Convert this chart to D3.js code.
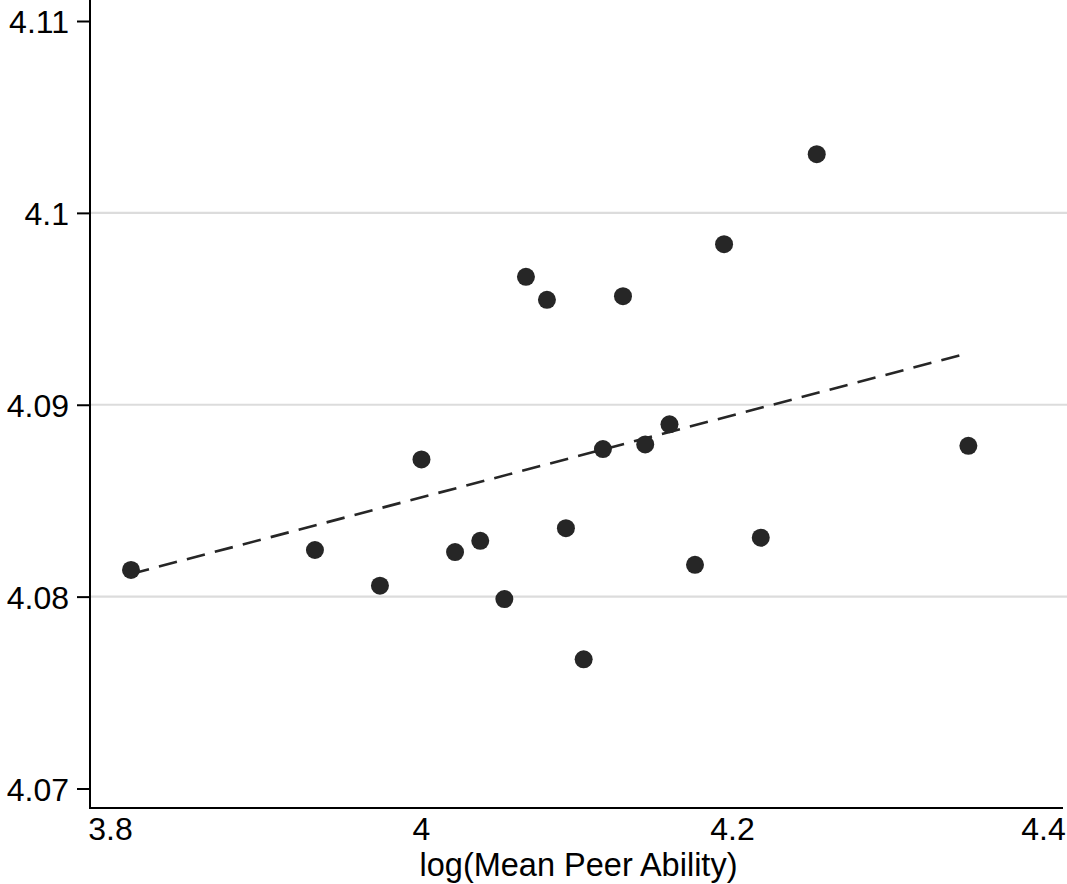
<!DOCTYPE html>
<html>
<head>
<meta charset="utf-8">
<script src="https://cdn.jsdelivr.net/npm/d3@7"></script>
<style>
  body { margin: 0; background: #fff; }
  svg { display: block; }
  text { font-family: "Liberation Sans", Arial, Helvetica, sans-serif; fill: #000; }
</style>
</head>
<body>
<svg id="chart" width="1067" height="884"></svg>
<script>
// peer ability (log) vs outcome, one dot per group
var peerAbility = [3.8135, 3.9318, 3.9736, 4.0003, 4.0219, 4.0381, 4.0536, 4.0675, 4.0810, 4.0932,
                   4.1046, 4.1170, 4.1299, 4.1442, 4.1598, 4.1762, 4.1949, 4.2185, 4.2545, 4.3520];
var outcome = [4.08139, 4.08243, 4.08057, 4.08715, 4.08232, 4.08291, 4.07987, 4.09667, 4.09547, 4.08357,
               4.07673, 4.08769, 4.09566, 4.08793, 4.08898, 4.08166, 4.09837, 4.08307, 4.10306, 4.08786];
// fitted line end points
var fitX = [3.8135, 4.3513];
var fitY = [4.08118, 4.09268];
var xTicks = [3.8, 4, 4.2, 4.4];
var yTicks = [4.07, 4.08, 4.09, 4.1, 4.11];
var gridTicks = [4.08, 4.09, 4.1];
var xTitle = "log(Mean Peer Ability)";

var svg = d3.select("#chart");
var dark = "#262626";
var axisLeftX = 90, axisBottomY = 808, rightEdge = 1067;

// ======================================================
// SCALES
var xScale = d3.scaleLinear().domain([3.8, 4.4]).range([110, 1043]);
var yScale = d3.scaleLinear().domain([4.07, 4.11]).range([788.5, 21]);

// gridlines
svg.append("g")
  .selectAll("line")
  .data(gridTicks)
  .enter()
  .append("line")
  .attr("x1", axisLeftX)
  .attr("x2", rightEdge)
  .attr("y1", d => yScale(d))
  .attr("y2", d => yScale(d))
  .attr("stroke", "#dcdcdc")
  .attr("stroke-width", 2.2);

// y axis
var yAxis = svg.append("g")
  .attr("transform", "translate(" + axisLeftX + ",0)")
  .call(d3.axisLeft(yScale)
    .tickValues(yTicks)
    .tickSize(13)
    .tickPadding(8)
    .tickFormat(d3.format("")));
yAxis.select(".domain").remove();
yAxis.selectAll(".tick line").attr("stroke", "#000").attr("stroke-width", 2);
yAxis.selectAll(".tick text")
  .attr("font-size", 32)
  .attr("fill", "#000")
  .attr("dy", "0.36em");

svg.append("line")
  .attr("x1", axisLeftX).attr("x2", axisLeftX)
  .attr("y1", 0).attr("y2", axisBottomY + 1)
  .attr("stroke", "#000").attr("stroke-width", 2);

// x axis (labels only, no tick marks)
var xAxis = svg.append("g")
  .attr("transform", "translate(0," + axisBottomY + ")")
  .call(d3.axisBottom(xScale)
    .tickValues(xTicks)
    .tickSize(0)
    .tickPadding(0)
    .tickFormat(d3.format("")));
xAxis.select(".domain").remove();
xAxis.selectAll(".tick text")
  .attr("font-size", 32)
  .attr("fill", "#000")
  .attr("y", 32)
  .attr("dy", 0);

svg.append("line")
  .attr("x1", axisLeftX - 1).attr("x2", 1063)
  .attr("y1", axisBottomY).attr("y2", axisBottomY)
  .attr("stroke", "#000").attr("stroke-width", 2);

// x title
svg.append("text")
  .attr("x", (axisLeftX + rightEdge) / 2)
  .attr("y", 876)
  .attr("text-anchor", "middle")
  .attr("font-size", 32.5)
  .text(xTitle);

// fitted line
svg.append("line")
  .attr("x1", xScale(fitX[0])).attr("y1", yScale(fitY[0]))
  .attr("x2", xScale(fitX[1])).attr("y2", yScale(fitY[1]))
  .attr("stroke", dark)
  .attr("stroke-width", 2.6)
  .attr("stroke-dasharray", "18.6,10.3");

// dots
svg.append("g")
  .selectAll("circle")
  .data(peerAbility)
  .enter()
  .append("circle")
  .attr("cx", d => xScale(d))
  .attr("cy", (d, i) => yScale(outcome[i]))
  .attr("r", 9)
  .attr("fill", dark);
</script>
</body>
</html>
